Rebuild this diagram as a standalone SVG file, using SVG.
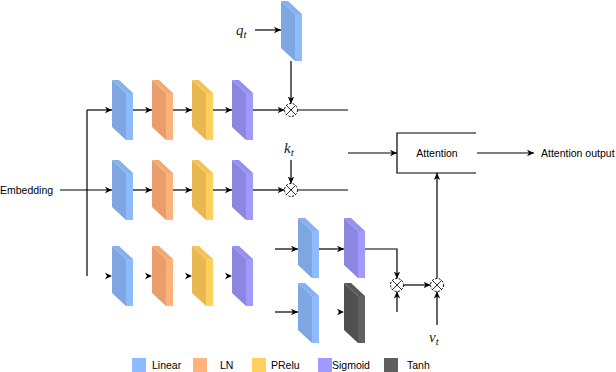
<svg xmlns="http://www.w3.org/2000/svg" width="616" height="372" viewBox="0 0 616 372">
<style>
  text { font-family: "Liberation Sans", Arial, sans-serif; font-size: 10.5px; fill: #000; }
  .m { font-family: "Liberation Serif", "Times New Roman", serif; font-style: italic; font-size: 15px; fill: #222; }
  .sub { font-size: 11px; }
  .ln { fill: none; stroke: #000; stroke-width: 1.2; }
  .arr { marker-end: url(#ah); }
  .head { fill: #000; }
  .circ { fill: #fff; stroke: #000; stroke-width: 1; stroke-dasharray: 2 1.5; }
  .x { stroke: #000; stroke-width: 0.8; }
  .lin { --s: #7EA6E0; --f: #8EBBFF; --t: #86B0F0; }
  .lnn { --s: #E89E6C; --f: #FFB27A; --t: #F4A873; }
  .pre { --s: #E8B952; --f: #FFD05E; --t: #F4C458; }
  .sig { --s: #8C86E0; --f: #A09AFF; --t: #9690F0; }
  .tan { --s: #505050; --f: #606060; --t: #585858; }
</style>
<defs>
  <marker id="ah" markerWidth="8" markerHeight="8" refX="7" refY="4" orient="auto" markerUnits="userSpaceOnUse">
    <path d="M0,0.8 L7,4 L0,7.2 L2,4 z" fill="#000"/>
  </marker>
  <g id="slab">
    <polygon style="fill:var(--s)" points="0,0 14,13 14,60 0,47"/>
    <polygon style="fill:var(--t)" points="0,0 7,0 21,13 14,13"/>
    <rect style="fill:var(--f)" x="14" y="13" width="7" height="47"/>
  </g>
  <g id="mul">
    <circle class="circ" cx="0" cy="0" r="6.5"/>
    <line class="x" x1="-4.6" y1="-4.6" x2="4.6" y2="4.6"/>
    <line class="x" x1="-4.6" y1="4.6" x2="4.6" y2="-4.6"/>
  </g>
  <path id="tip" d="M-7,-3.2 L0,0 L-7,3.2 L-5,0 z"/>
</defs>

<g id="connectors">
  <line class="ln arr" x1="60" y1="190" x2="112" y2="190"/>
  <line class="ln" x1="87" y1="110" x2="87" y2="276"/>
  <line class="ln arr" x1="87" y1="110" x2="112" y2="110"/>
  <line class="ln arr" x1="133" y1="110" x2="152" y2="110"/>
  <line class="ln arr" x1="173" y1="110" x2="192" y2="110"/>
  <line class="ln arr" x1="213" y1="110" x2="232" y2="110"/>
  <line class="ln arr" x1="253" y1="110" x2="284.5" y2="110"/>
  <line class="ln" x1="297.5" y1="110" x2="348" y2="110"/>
  <line class="ln arr" x1="255" y1="30" x2="281" y2="30"/>
  <line class="ln arr" x1="291" y1="61" x2="291" y2="103.5"/>
  <line class="ln arr" x1="133" y1="190" x2="152" y2="190"/>
  <line class="ln arr" x1="173" y1="190" x2="192" y2="190"/>
  <line class="ln arr" x1="213" y1="190" x2="232" y2="190"/>
  <line class="ln arr" x1="253" y1="190" x2="284.5" y2="190"/>
  <line class="ln" x1="297.5" y1="190" x2="348" y2="190"/>
  <line class="ln arr" x1="291" y1="160" x2="291" y2="183.5"/>
  <use href="#tip" class="head" x="112" y="276"/>
  <use href="#tip" class="head" x="152" y="276"/>
  <use href="#tip" class="head" x="192" y="276"/>
  <use href="#tip" class="head" x="232" y="276"/>
  <line class="ln arr" x1="348" y1="153" x2="397" y2="153"/>
  <line class="ln arr" x1="477" y1="153" x2="534" y2="153"/>
  <line class="ln arr" x1="275" y1="249" x2="298" y2="249"/>
  <line class="ln arr" x1="319" y1="249" x2="344" y2="249"/>
  <polyline class="ln arr" points="365,249 397,249 397,278.5"/>
  <line class="ln arr" x1="275" y1="312" x2="298" y2="312"/>
  <use href="#tip" class="head" x="344" y="312"/>
  <line class="ln arr" x1="397" y1="312" x2="397" y2="291.5"/>
  <line class="ln arr" x1="403.5" y1="285" x2="430.5" y2="285"/>
  <line class="ln arr" x1="437" y1="325" x2="437" y2="291.5"/>
  <line class="ln arr" x1="437" y1="278.5" x2="437" y2="173"/>
</g>

<g id="label-embedding"><text x="0" y="194">Embedding</text></g>

<g id="row1">
  <use href="#slab" class="lin" x="112" y="80"/>
  <use href="#slab" class="lnn" x="152" y="80"/>
  <use href="#slab" class="pre" x="192" y="80"/>
  <use href="#slab" class="sig" x="232" y="80"/>
</g>
<g id="row2">
  <use href="#slab" class="lin" x="112" y="160"/>
  <use href="#slab" class="lnn" x="152" y="160"/>
  <use href="#slab" class="pre" x="192" y="160"/>
  <use href="#slab" class="sig" x="232" y="160"/>
</g>
<g id="row3">
  <use href="#slab" class="lin" x="112" y="246"/>
  <use href="#slab" class="lnn" x="152" y="246"/>
  <use href="#slab" class="pre" x="192" y="246"/>
  <use href="#slab" class="sig" x="232" y="246"/>
</g>
<g id="q-linear"><use href="#slab" class="lin" x="281" y="1"/></g>
<g id="q-label"><text class="m" x="236" y="35">q<tspan class="sub" dy="3">t</tspan></text></g>
<g id="k-label"><text class="m" x="284" y="153">k<tspan class="sub" dy="3">t</tspan></text></g>
<g id="v-label"><text class="m" x="429" y="342">v<tspan class="sub" dy="3">t</tspan></text></g>

<g id="mul-q"><use href="#mul" x="291" y="110"/></g>
<g id="mul-k"><use href="#mul" x="291" y="190"/></g>
<g id="mul-gate"><use href="#mul" x="397" y="285"/></g>
<g id="mul-v"><use href="#mul" x="437" y="285"/></g>

<g id="attention">
  <path class="ln" d="M476,133 H397 V173 H476"/>
  <text x="437" y="157" text-anchor="middle">Attention</text>
</g>
<g id="attention-output"><text x="541" y="157">Attention output</text></g>

<g id="gate-linear"><use href="#slab" class="lin" x="298" y="218"/></g>
<g id="gate-sigmoid"><use href="#slab" class="sig" x="344" y="218"/></g>
<g id="tanh-linear"><use href="#slab" class="lin" x="298" y="283"/></g>
<g id="tanh"><use href="#slab" class="tan" x="344" y="283"/></g>

<g id="legend">
  <rect x="132" y="358" width="14" height="14" fill="#8EBBFF"/><text x="152" y="369">Linear</text>
  <rect x="193" y="358" width="14" height="14" fill="#FFB27A"/><text x="220" y="369">LN</text>
  <rect x="252" y="358" width="14" height="14" fill="#FFD05E"/><text x="271" y="369">PRelu</text>
  <rect x="318" y="358" width="14" height="14" fill="#A09AFF"/><text x="332" y="369">Sigmoid</text>
  <rect x="384" y="358" width="14" height="14" fill="#5F5F5F"/><text x="407" y="369">Tanh</text>
</g>
</svg>
